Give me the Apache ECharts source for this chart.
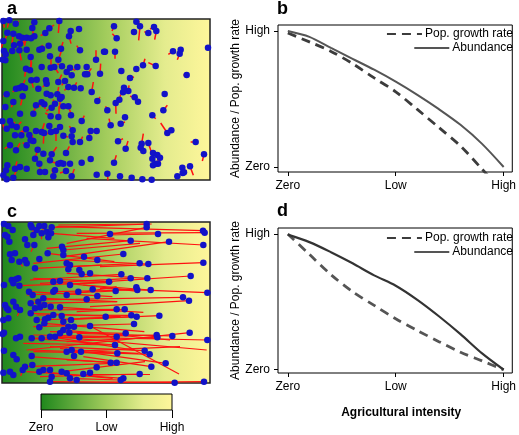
<!DOCTYPE html>
<html><head><meta charset="utf-8">
<script src="https://cdn.jsdelivr.net/npm/echarts@6/dist/echarts.min.js"></script>
<style>html,body{margin:0;padding:0;background:#fff}#c{width:519px;height:435px}</style>
</head><body><div id="c"></div>
<script>
// ---- data ----
const tickLabels = ['Zero', 'Low', 'High'];
const intensity = [0, 0.2, 0.4, 0.6, 0.8, 1.0, 1.2, 1.4, 1.6, 1.8, 2.0];
// panel b
const growthB = [0.985, 0.92, 0.85, 0.76, 0.655, 0.553, 0.423, 0.29, 0.154, -0.016, -0.19];
const abundB  = [1.0, 0.957, 0.875, 0.795, 0.715, 0.627, 0.53, 0.425, 0.31, 0.17, 0.0];
// panel d
const growthD = [1.0, 0.85, 0.70, 0.575, 0.474, 0.375, 0.289, 0.207, 0.129, 0.065, 0.0];
const abundD  = [0.995, 0.94, 0.866, 0.784, 0.695, 0.619, 0.515, 0.394, 0.262, 0.12, 0.0];
// animals: [x, y, dx, dy] in landscape units (x 6..630, y 6..489 from top)
const animalsA = [
[10,12,3,20],[28,10,-6,22],[47,20,10,-8],[103,16,-8,6],[178,12,-3,36],[148,34,14,-10],[97,33,4,26],[136,48,-14,8],
[212,42,-8,22],[237,36,0,0],[207,58,6,22],[22,47,-8,26],[40,50,-4,30],[57,58,4,26],[67,62,8,24],[80,62,-6,20],
[93,64,10,-12],[103,58,0,0],[12,102,0,26],[17,112,-12,14],[37,102,4,-24],[58,100,6,30],[80,98,0,0],[118,98,10,-14],
[126,95,0,0],[146,86,0,0],[183,95,6,-20],[175,128,10,-28],[150,118,0,0],[92,120,0,30],[16,130,0,0],[78,155,-4,24],
[90,160,5,-25],[152,152,0,-28],[163,150,12,18],[186,148,-14,-8],[210,152,16,8],[232,150,0,0],[200,165,0,0],[215,175,0,0],
[255,172,0,0],[262,172,12,-18],[300,170,2,-30],[288,128,0,-28],[312,104,0,0],[94,190,6,22],[110,188,0,0],[138,190,0,0],
[175,195,10,-22],[195,192,-10,13],[205,210,-12,10],[222,212,8,-16],[242,214,0,0],[275,225,5,-30],[292,252,8,-12],[48,215,-10,10],
[58,213,0,0],[67,208,8,-20],[75,213,0,0],[68,238,-6,27],[20,232,-10,6],[40,255,-6,16],[16,270,0,0],[152,235,0,0],
[172,232,4,-22],[180,245,0,30],[185,240,0,0],[165,260,-6,-12],[125,256,-8,14],[133,262,0,14],[108,265,0,0],[155,272,-16,10],
[190,268,0,0],[205,268,8,22],[175,300,0,-32],[152,298,-16,-10],[213,295,0,0],[7,313,6,26],[30,312,0,0],[35,325,10,-10],
[20,335,0,0],[50,330,14,-16],[78,337,-16,8],[45,355,0,0],[64,355,10,-16],[88,354,0,0],[100,372,-4,-18],[108,342,0,0],
[125,345,8,-26],[132,348,-2,32],[148,327,0,0],[153,345,-14,6],[168,342,0,30],[180,330,0,0],[190,356,14,4],[215,358,0,0],
[218,340,-10,-12],[240,375,8,-16],[245,312,8,-16],[268,363,0,0],[272,342,-6,18],[290,342,0,0],[218,375,0,0],[30,385,-16,10],
[48,400,12,-22],[80,385,-12,-8],[92,370,0,0],[113,398,0,0],[105,425,6,-20],[118,440,0,0],[155,412,15,-22],[175,440,-20,-6],
[190,440,0,0],[198,408,10,-20],[182,438,0,0],[210,440,0,0],[245,437,0,0],[272,426,0,0],[18,460,12,-18],[22,445,0,0],
[45,455,6,-22],[60,450,0,0],[80,455,0,0],[120,465,0,-14],[135,465,-14,-6],[160,478,-4,-24],[165,460,0,0],[215,478,8,-22],
[198,462,-18,6],[290,473,0,0],[20,487,0,0],[40,482,8,-18],[10,475,0,0],[10,72,-6,20],[8,128,0,0],[60,80,0,0],
[42,85,0,22],[125,150,0,0],[260,150,0,0],[240,100,-10,-14],[115,215,0,0],[140,230,0,0],[100,290,6,-20],[60,290,0,0],
[130,410,0,0],[150,430,0,0],[140,200,-12,10],
[342,28,-6,14],[350,64,-13,-14],[409,14,10,0],[420,28,-4,42],[402,45,0,0],[445,48,-12,-4],[462,30,-12,6],[469,42,-5,26],
[315,104,0,0],[345,104,0,21],[519,103,-14,9],[542,98,0,0],[539,110,-7,18],[624,92,0,0],[364,162,0,0],[409,156,0,0],
[429,145,6,-20],[467,147,-22,-10],[390,183,12,-3],[372,212,0,0],[385,222,2,-17],[369,226,0,0],[358,248,4,-16],[347,258,1,32],
[322,280,-5,-12],[404,241,-14,-3],[414,254,0,0],[494,231,0,0],[560,174,-10,0],[375,301,0,0],[457,295,10,10],[490,280,12,-15],
[362,320,13,-5],[332,325,-5,-20],[502,348,-20,-30],[514,340,0,0],[354,373,15,-8],[377,395,7,-23],[425,380,5,-30],[422,392,0,0],
[430,402,0,0],[445,378,9,27],[342,437,7,-22],[459,408,0,0],[472,414,0,26],[480,422,-2,23],[457,425,0,0],[467,440,0,0],
[474,440,0,0],[459,445,0,0],[547,452,0,0],[552,466,0,0],[570,448,10,27],[548,468,12,-8],[532,478,0,0],[587,375,-15,0],
[612,412,-5,20],[322,470,2,20],[395,482,0,0],[427,487,0,0],[455,488,0,0],[360,478,0,0]
];
const animalsC = [
[12,12,0,0],[25,18,0,0],[38,30,0,0],[15,45,0,0],[22,50,0,0],[28,65,0,0],[92,15,0,0],[95,22,8,20],[118,18,0,0],[133,18,-10,25],
[110,30,0,0],[125,40,0,18],[140,35,0,0],[155,22,300,-10],[153,40,190,15],[145,52,0,0],[100,45,0,0],[75,58,0,0],[82,75,0,0],
[103,75,-10,20],[186,80,0,0],[190,90,230,-20],[190,105,0,0],[45,100,0,0],[30,103,0,0],[35,120,0,0],[58,125,10,14],[75,120,0,0],
[80,130,0,0],[105,145,200,-10],[143,100,200,25],[118,117,0,0],[200,130,0,0],[210,135,0,0],[252,110,0,0],[292,120,0,0],
[205,148,0,0],[238,150,0,0],[245,162,0,0],[270,160,0,0],[55,175,0,0],[35,180,0,0],[48,178,0,0],[40,190,0,0],[58,197,280,-10],
[12,195,0,0],[160,185,260,30],[180,183,0,0],[210,195,0,0],[165,210,0,0],[200,225,150,-25],[235,215,0,0],[278,208,0,0],
[87,215,250,15],[98,225,0,0],[130,235,220,10],[115,245,0,0],[92,250,260,-5],[105,265,0,0],[120,262,0,0],[133,255,0,0],
[152,260,0,0],[180,262,250,15],[260,238,0,0],[292,228,0,0],[160,215,0,0],[15,255,0,0],[40,245,0,0],[48,260,0,0],[20,265,0,0],
[25,270,0,0],[10,300,0,0],[25,295,0,0],[12,338,0,0],[8,342,0,0],[60,270,-8,18],[92,280,270,10],[110,300,240,-8],[135,298,0,0],
[133,310,300,25],[118,322,0,0],[145,293,0,0],[160,285,0,0],[185,288,0,0],[190,305,0,0],[213,300,0,0],[222,320,0,0],[205,320,0,0],
[190,330,320,30],[180,340,0,0],[165,350,455,40],[150,350,250,40],[125,355,0,0],[95,355,250,20],[208,338,0,0],[238,352,0,0],
[270,318,267,144],[48,355,0,0],[60,350,0,0],[12,392,0,0],[40,405,0,0],[50,418,0,0],[95,408,0,0],[200,395,340,-15],
[215,390,200,10],[222,408,0,0],[243,395,0,0],[97,435,0,0],[75,440,265,-10],[40,465,0,0],[30,455,0,0],[10,458,0,0],
[68,450,-6,18],[150,450,0,0],[130,450,0,0],[118,455,220,20],[155,470,0,0],[185,455,250,-30],[200,460,0,0],[210,475,0,0],
[250,462,200,0],[270,458,0,0],[290,442,0,0],[230,480,0,0],[150,485,0,0],
[440,12,-265,3],[440,22,-240,48],[330,42,0,0],[474,42,-154,3],[609,32,-439,-12],[614,38,-384,2],[392,62,-252,23],[507,65,-317,45],
[610,75,-350,-20],[370,102,-270,28],[419,130,-209,10],[445,132,-250,-12],[610,128,-310,12],[364,163,-274,17],[392,175,-272,15],
[442,175,-242,-15],[572,168,-332,22],[327,185,-227,-10],[347,213,-267,12],[412,210,-252,5],[409,202,0,0],[452,210,-202,-15],
[549,232,-449,8],[567,242,-297,18],[622,218,-322,-13],[350,268,-230,2],[374,268,-144,7],[317,290,0,0],[394,286,-284,-1],
[410,290,-170,5],[478,287,-298,13],[402,312,-302,8],[377,340,-227,-5],[350,350,-250,-5],[470,345,-380,10],[472,352,-272,13],
[517,348,-287,-8],[569,338,-489,52],[622,360,-482,-10],[345,375,-275,-5],[352,400,-252,-5],[434,392,-284,-12],[449,403,-359,-13],
[497,430,-317,-45],[454,440,-204,-30],[332,428,-242,-18],[350,428,-150,-8],[419,462,-299,8],[370,475,-290,-20],[362,480,-162,-5],
[524,488,-374,-3],[612,485,-312,3]
];

// ---- helpers ----
function landscape() {
  return new echarts.graphic.LinearGradient(0, 0, 1, 0, [
    {offset: 0, color: '#1e871c'},
    {offset: 0.5, color: '#a2cc5c'},
    {offset: 0.78, color: '#e4ec8e'},
    {offset: 1, color: '#fff69b'}
  ]);
}
const font = 'Liberation Sans, Arial, Helvetica, sans-serif';
const dots = arr => arr.map(a => [a[0], a[1]]);
const trails = arr => arr.filter(a => a[2] || a[3]).map(a => ({coords: [[a[0], a[1]], [a[0] + a[2], a[1] + a[3]]]}));
const pairs = ys => intensity.map((x, i) => [x, ys[i]]);

function fieldAxes(gi) {
  return {
    x: {gridIndex: gi, type: 'value', min: 6, max: 630, show: false},
    y: {gridIndex: gi, type: 'value', min: 6, max: 489, inverse: true, show: false}
  };
}
function curveX(gi, withName) {
  const ax = {
    gridIndex: gi, type: 'value', min: -0.091, max: 2.08,
    axisLine: {show: false, onZero: false}, splitLine: {show: false},
    axisTick: {show: true, inside: false, customValues: [0, 1, 2], length: 4, lineStyle: {color: '#000', width: 1}},
    axisLabel: {customValues: [0, 1, 2], formatter: v => tickLabels[Math.round(v)], color: '#000', fontSize: 12, margin: 8, fontFamily: font}
  };
  if (withName) {
    ax.name = 'Agricultural intensity';
    ax.nameLocation = 'middle';
    ax.nameGap = 34;
    ax.nameTextStyle = {fontSize: 12, fontWeight: 'bold', color: '#000', fontFamily: font, padding: [0, 0, 0, 12]};
  }
  return ax;
}
function curveY(gi, ymin) {
  return {
    gridIndex: gi, type: 'value', min: ymin, max: 1.044,
    axisLine: {show: false, onZero: false}, splitLine: {show: false},
    axisTick: {show: true, inside: false, customValues: [0, 1], length: 4, lineStyle: {color: '#000', width: 1}},
    axisLabel: {customValues: [0, 1], formatter: v => (v < 0.5 ? tickLabels[0] : tickLabels[2]), color: '#000', fontSize: 12, margin: 8, fontFamily: font},
    name: 'Abundance / Pop. growth rate', nameLocation: 'middle', nameGap: 35,
    nameTextStyle: {fontSize: 12, color: '#000', fontFamily: font}
  };
}
function legendItem(name, top) {
  return {
    data: [name], right: 6, top: top, orient: 'vertical', padding: 0,
    itemWidth: 35, itemHeight: 12, selectedMode: false,
    itemStyle: {opacity: 0, borderWidth: 0},
    textStyle: {fontSize: 12, color: '#000', fontFamily: font, padding: [0, 0, 0, -2]}
  };
}

const fa = fieldAxes(0), fc = fieldAxes(1);
const option = {
  animation: false,
  textStyle: {fontFamily: font},
  title: [
    {text: 'a', left: 7, top: 0, padding: 0, textStyle: {fontSize: 18, fontWeight: 'bold', color: '#000', fontFamily: font}},
    {text: 'b', left: 277, top: 0, padding: 0, textStyle: {fontSize: 18, fontWeight: 'bold', color: '#000', fontFamily: font}},
    {text: 'c', left: 7, top: 203, padding: 0, textStyle: {fontSize: 18, fontWeight: 'bold', color: '#000', fontFamily: font}},
    {text: 'd', left: 277, top: 202, padding: 0, textStyle: {fontSize: 18, fontWeight: 'bold', color: '#000', fontFamily: font}}
  ],
  legend: [
    legendItem('Pop. growth rate', 28), legendItem('Abundance', 42),
    legendItem('Pop. growth rate', 232), legendItem('Abundance', 246)
  ],
  grid: [
    {left: 2, top: 19, width: 208, height: 161, show: true, backgroundColor: landscape(), borderColor: '#222', borderWidth: 1.5},
    {left: 2, top: 222, width: 208, height: 161, show: true, backgroundColor: landscape(), borderColor: '#222', borderWidth: 1.5},
    {left: 278, top: 25, width: 238, height: 147, show: true, backgroundColor: 'transparent', borderColor: '#000', borderWidth: 1},
    {left: 278, top: 228, width: 238, height: 145, show: true, backgroundColor: 'transparent', borderColor: '#000', borderWidth: 1},
    {left: 41, top: 394, width: 131, height: 16, show: true, backgroundColor: landscape(), borderColor: '#000', borderWidth: 1}
  ],
  xAxis: [
    fa.x, fc.x, curveX(2, false), curveX(3, true),
    {gridIndex: 4, type: 'value', min: 0, max: 2, axisLine: {show: false, onZero: false}, splitLine: {show: false},
     axisTick: {show: true, customValues: [0, 1, 2], length: 8, lineStyle: {color: '#000', width: 1}},
     axisLabel: {customValues: [0, 1, 2], formatter: v => tickLabels[Math.round(v)], color: '#000', fontSize: 12, margin: 12, fontFamily: font}}
  ],
  yAxis: [
    fa.y, fc.y, curveY(2, -0.037), curveY(3, -0.024),
    {gridIndex: 4, type: 'value', min: 0, max: 1, show: false}
  ],
  series: [
    {type: 'lines', coordinateSystem: 'cartesian2d', xAxisIndex: 0, yAxisIndex: 0, clip: true, silent: true, z: 2,
     lineStyle: {color: '#ff1010', width: 1.5, opacity: 1, curveness: 0}, data: trails(animalsA)},
    {type: 'scatter', name: 'animals a', xAxisIndex: 0, yAxisIndex: 0, symbolSize: 6.5, silent: true, z: 3,
     itemStyle: {color: '#1212c8', opacity: 1}, data: dots(animalsA)},
    {type: 'lines', coordinateSystem: 'cartesian2d', xAxisIndex: 1, yAxisIndex: 1, clip: true, silent: true, z: 2,
     lineStyle: {color: '#ff1010', width: 1.2, opacity: 1, curveness: 0}, data: trails(animalsC)},
    {type: 'scatter', name: 'animals c', xAxisIndex: 1, yAxisIndex: 1, symbolSize: 6.5, silent: true, z: 3,
     itemStyle: {color: '#1212c8', opacity: 1}, data: dots(animalsC)},
    {type: 'line', name: 'Pop. growth rate', xAxisIndex: 2, yAxisIndex: 2, smooth: 0.3, symbol: 'none', showSymbol: false,
     lineStyle: {color: '#3c3c3c', width: 2.8, type: [9, 6]}, itemStyle: {color: '#3c3c3c'}, data: pairs(growthB)},
    {type: 'line', name: 'Abundance', xAxisIndex: 2, yAxisIndex: 2, smooth: 0.3, symbol: 'none', showSymbol: false,
     lineStyle: {color: '#555', width: 2}, itemStyle: {color: '#555'}, data: pairs(abundB)},
    {type: 'line', name: 'Pop. growth rate', xAxisIndex: 3, yAxisIndex: 3, smooth: 0.3, symbol: 'none', showSymbol: false,
     lineStyle: {color: '#555', width: 2.8, type: [9, 6]}, itemStyle: {color: '#555'}, data: pairs(growthD)},
    {type: 'line', name: 'Abundance', xAxisIndex: 3, yAxisIndex: 3, smooth: 0.3, symbol: 'none', showSymbol: false,
     lineStyle: {color: '#333', width: 2.2}, itemStyle: {color: '#333'}, data: pairs(abundD)}
  ]
};
const chart = echarts.init(document.getElementById('c'), null, {renderer: 'canvas'});
chart.setOption(option);
</script></body></html>
